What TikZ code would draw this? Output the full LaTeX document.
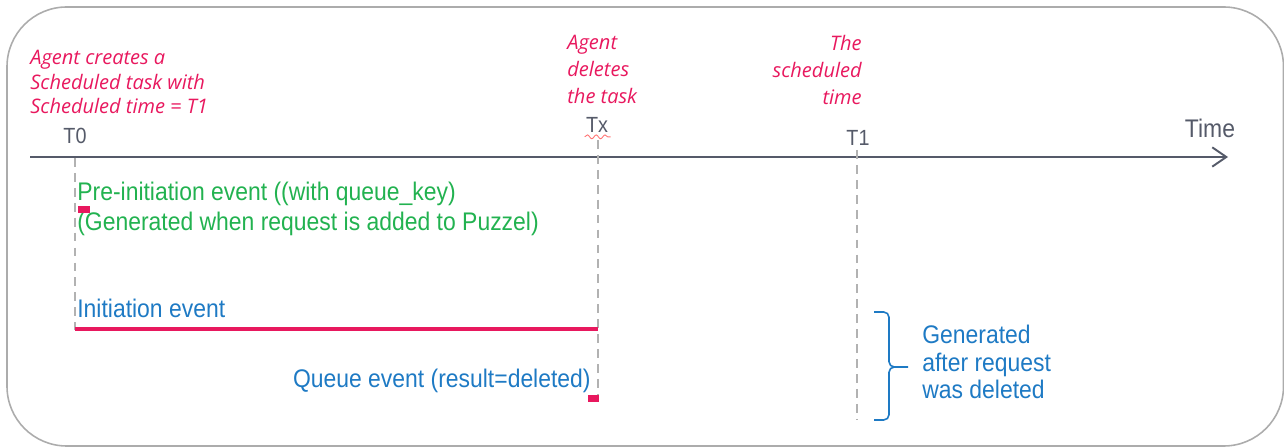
\documentclass[tikz,border=0pt]{standalone}
\usepackage{fontspec}
\setmainfont{Liberation Sans}[FakeStretch=0.9]
\newfontfamily\notefont{Open Sans}
\usepackage{xcolor}
\usetikzlibrary{arrows.meta, decorations.pathmorphing}
\definecolor{noteRed}{RGB}{232,24,94}
\definecolor{evGreen}{RGB}{34,178,80}
\definecolor{evBlue}{RGB}{30,122,196}
\definecolor{axisGray}{RGB}{85,90,105}
\tikzset{
    note/.style={inner sep=0pt, text=noteRed, font=\notefont\itshape\fontsize{11.4}{13.9}\selectfont},
    tick/.style={inner sep=0pt, text=axisGray, font=\fontsize{12.5}{15}\selectfont},
    event/.style={inner sep=0pt, font=\fontsize{14.5}{17}\selectfont},
    guide/.style={gray!60, line width=0.6pt, dash pattern=on 5pt off 3.5pt},
    marker/.style={fill=noteRed, draw=none},
}
\begin{document}
\begin{tikzpicture}[x=0.02cm, y=-0.02cm, >={Straight Barb[length=8pt, width=11pt]}]
    \useasboundingbox (0,0) rectangle (1284,448);
    % frame
    \draw[gray!65, line width=0.9pt, rounded corners=34pt] (7,7) rectangle (1283.5,446);

    % time axis
    \coordinate (axisL) at (30,157);
    \coordinate (axisR) at (1228,157);
    \draw[->, axisGray, line width=1.1pt] (axisL) -- (axisR);
    \node[tick, anchor=base, font=\fontsize{14.5}{15}\selectfont] (time) at (1210,138) {Time};

    % time points
    \node[tick, anchor=base] (t0) at (75,144) {T0};
    \node[tick, anchor=base] (tx) at (597,133) {Tx};
    \node[tick, anchor=base] (t1) at (858,146) {T1};
    \draw[red!55, line width=0.5pt, decorate, decoration={snake, amplitude=1.1pt, segment length=5pt}]
        (tx.south west) ++(-1,3.5) -- ++(26,0);

    % annotations
    \node[note, anchor=north west, align=left] (create) at (30,50)
        {Agent creates a\\Scheduled task with\\Scheduled time = T1};
    \node[note, anchor=north west, align=left, font=\notefont\itshape\fontsize{11.4}{15.3}\selectfont] (delete) at (567,35)
        {Agent\\deletes\\the task};
    \node[note, anchor=north east, align=right, font=\notefont\itshape\fontsize{11.4}{15.3}\selectfont] (sched) at (862,35)
        {The\\scheduled\\time};

    % guides
    \coordinate (g0) at (75,330);
    \coordinate (gx) at (598,402);
    \coordinate (g1) at (857,420);
    \draw[guide] (75,158) -- (g0);
    \draw[guide] (598,140) -- (gx);
    \draw[guide] (857,150) -- (g1);

    % events
    \node[event, text=evGreen, anchor=north west, align=left] (pre) at (77,182)
        {Pre-initiation event ((with queue\_key)\\(Generated when request is added to Puzzel)};
    \fill[marker] (78,206) rectangle (90,213);

    \node[event, text=evBlue, anchor=north west] (init) at (77,299) {Initiation event};
    \draw[noteRed, line width=2.3pt] (75,329) -- (598,329);

    \node[event, text=evBlue, anchor=north east] (queue) at (591,369) {Queue event (result=deleted)};
    \fill[marker] (588,395) rectangle (599,402);

    % brace
    \draw[evBlue, line width=0.9pt, rounded corners=3pt] (874,312) -- (889,312) -- (889,367) -- (908,367);
    \draw[evBlue, line width=0.9pt, rounded corners=3pt] (892,367) -- (889,367) -- (889,420) -- (874,420);
    \node[event, text=evBlue, anchor=north west, align=left, font=\fontsize{14.5}{15.5}\selectfont] (after) at (922,325)
        {Generated\\after request\\was deleted};
\end{tikzpicture}
\end{document}
